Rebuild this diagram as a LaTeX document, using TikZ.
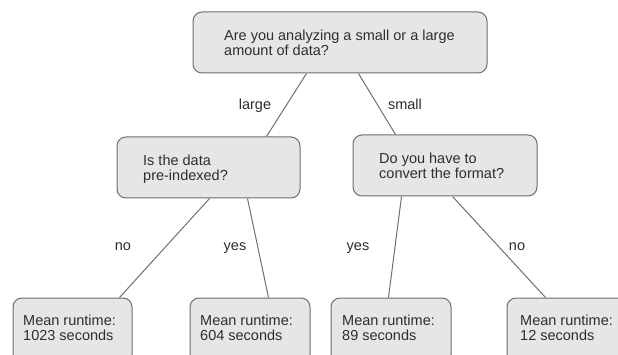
\documentclass[tikz,border=0pt]{standalone}
\usepackage{fontspec}
\setmainfont{Liberation Sans}
\begin{document}
\begin{tikzpicture}[x=1pt,y=-1pt,
  box/.style={draw=boxline,fill=boxfill,line width=1pt,rounded corners=9pt,minimum height=61pt,inner sep=0pt},
  txt/.style={anchor=north west,align=left,inner sep=0pt,text=textcol,font=\fontsize{14.5}{15}\selectfont},
  lbl/.style={anchor=base,inner sep=0pt,text=textcol,font=\fontsize{14.5}{15}\selectfont},
  conn/.style={draw=connline,line width=1pt}]
\definecolor{boxline}{HTML}{6E6E6E}
\definecolor{boxfill}{HTML}{E6E6E6}
\definecolor{textcol}{HTML}{2E2E2E}
\definecolor{connline}{HTML}{707070}
\clip (0,0) rectangle (618,355);
\fill[white] (0,0) rectangle (618,355);
% boxes
\node[box,minimum width=294pt] (top) at (340,42.5) {};
\node[box,minimum width=183pt] (L) at (208.5,167.5) {};
\node[box,minimum width=184pt] (R) at (445,165.5) {};
\node[box,minimum width=119pt,minimum height=66pt] (B1) at (72.5,331) {};
\node[box,minimum width=120pt,minimum height=66pt] (B2) at (250,331) {};
\node[box,minimum width=120pt,minimum height=66pt] (B3) at (391,331) {};
\node[box,minimum width=120pt,minimum height=66pt] (B4) at (567,331) {};
% texts
\node[txt] (ttop) at (224,30) {Are you analyzing a small or a large\\amount of data?};
\node[txt] (tL) at (143,155) {Is the data\\pre-indexed?};
\node[txt] (tR) at (379,153) {Do you have to\\convert the format?};
\node[txt] (tB1) at (23,315) {Mean runtime:\\1023 seconds};
\node[txt] (tB2) at (200,315) {Mean runtime:\\604 seconds};
\node[txt] (tB3) at (342,315) {Mean runtime:\\89 seconds};
\node[txt] (tB4) at (520,315) {Mean runtime:\\12 seconds};
% connectors
\draw[conn] ([xshift=114pt]top.south west) -- ([xshift=150pt]L.north west);
\draw[conn] ([xshift=166pt]top.south west) -- ([xshift=43pt]R.north west);
\draw[conn] ([xshift=93pt]L.south west) -- ([xshift=107pt]B1.north west);
\draw[conn] ([xshift=131pt]L.south west) -- ([xshift=79pt]B2.north west);
\draw[conn] ([xshift=49pt]R.south west) -- ([xshift=58pt]B3.north west);
\draw[conn] ([xshift=100pt]R.south west) -- ([xshift=39pt]B4.north west);
% labels
\node[lbl] (llarge) at (255,110) {large};
\node[lbl] (lsmall) at (405,110) {small};
\node[lbl] (lno1) at (123,251) {no};
\node[lbl] (lyes1) at (235,251) {yes};
\node[lbl] (lyes2) at (358,251) {yes};
\node[lbl] (lno2) at (517,251) {no};
\end{tikzpicture}
\end{document}
